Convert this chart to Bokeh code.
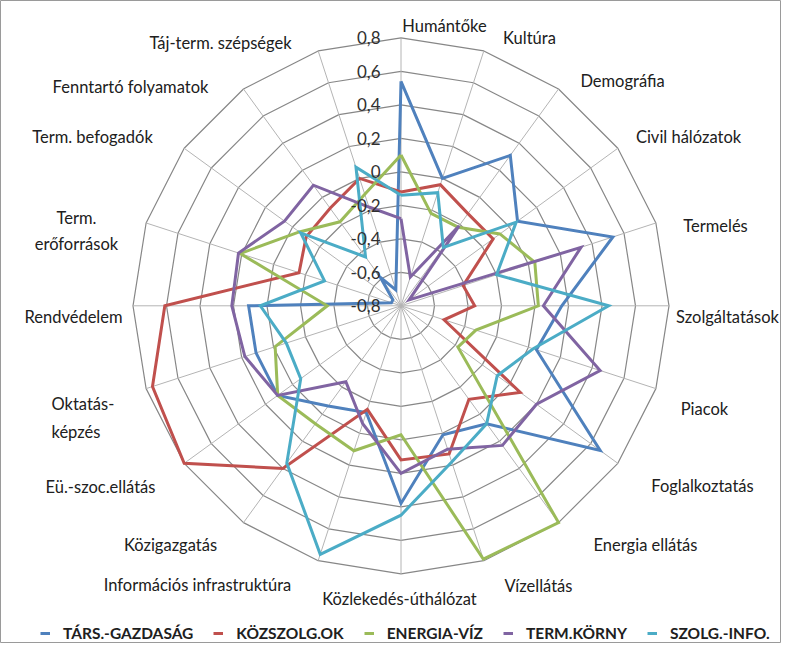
import numpy as np
from bokeh.plotting import figure
from bokeh.models import Legend, LegendItem, Range1d
from bokeh.core.properties import value
from bokeh.embed import file_html
from bokeh.resources import INLINE

# ---------------- data ----------------
categories = ["Humántőke", "Kultúra", "Demográfia", "Civil hálózatok", "Termelés",
              "Szolgáltatások", "Piacok", "Foglalkoztatás", "Energia ellátás", "Vízellátás",
              "Közlekedés-úthálózat", "Információs infrastruktúra", "Közigazgatás",
              "Eü.-szoc.ellátás", "Oktatás-képzés", "Rendvédelem", "Term. erőforrások",
              "Term. befogadók", "Fenntartó folyamatok", "Táj-term. szépségek"]

tars_gazdasag = [0.54, 0.00, 0.31, 0.06, 0.53, 0.16, 0.05, 0.67, 0.07, 0.01,
                 0.38, -0.13, -0.06, 0.11, 0.11, 0.11, -0.74, -0.74, -0.59, -0.70]
kozszolg_ok = [-0.12, -0.04, -0.12, -0.12, -0.41, -0.36, -0.53, 0.08, -0.11, 0.13,
               0.12, -0.15, 0.40, 0.80, 0.76, 0.61, -0.16, -0.10, -0.08, 0.00]
energia_viz = [0.10, -0.22, -0.22, -0.07, 0.04, 0.02, -0.33, -0.38, 0.80, 0.79,
               -0.03, 0.11, 0.07, 0.11, -0.01, -0.36, 0.21, -0.05, -0.18, -0.10]
term_korny = [-0.28, -0.62, -0.21, -0.74, 0.33, 0.05, 0.45, 0.20, 0.23, 0.10,
              0.20, -0.06, -0.24, 0.11, 0.18, 0.21, 0.22, 0.06, 0.09, -0.18]
szolg_info = [-0.14, -0.09, -0.37, 0.05, -0.20, 0.44, 0.03, -0.09, 0.07, 0.18,
              0.45, 0.76, 0.36, -0.06, -0.08, 0.04, -0.32, -0.06, -0.44, 0.07]

series_names = ["TÁRS.-GAZDASÁG", "KÖZSZOLG.OK", "ENERGIA-VÍZ", "TERM.KÖRNY", "SZOLG.-INFO."]
series_values = [tars_gazdasag, kozszolg_ok, energia_viz, term_korny, szolg_info]

tick_values = [-0.8, -0.6, -0.4, -0.2, 0.0, 0.2, 0.4, 0.6, 0.8]
tick_labels = ["-0,8", "-0,6", "-0,4", "-0,2", "0", "0,2", "0,4", "0,6", "0,8"]

# ---------------- styles / layout ----------------
colors = ["#4F81BD", "#C0504D", "#9BBB59", "#8064A2", "#4BACC6"]
W, H = 781, 643
CX, CY = 400.5, 305.3          # chart centre in figure pixels
PX_PER_UNIT = 167.5            # pixels per 1.0 of value
VMIN, VMAX = -0.8, 0.8

n = len(categories)
theta = np.arange(n) * 2 * np.pi / n


def polar(vals):
    r = np.asarray(vals, dtype=float) - VMIN
    return r * np.sin(theta), r * np.cos(theta)


def pix(px, py):
    """page-pixel position -> data coords (figure sits at the 8px page margin)"""
    return (px - 8 - CX) / PX_PER_UNIT, (CY - (py - 8)) / PX_PER_UNIT


p = figure(width=W, height=H, output_backend="svg", toolbar_location=None,
           x_range=Range1d(-CX / PX_PER_UNIT, (W - CX) / PX_PER_UNIT),
           y_range=Range1d(-(H - CY) / PX_PER_UNIT, CY / PX_PER_UNIT),
           min_border=0)
p.axis.visible = False
p.grid.visible = False
p.outline_line_color = "#9a9a9a"
p.outline_line_width = 1
p.background_fill_color = "white"
p.border_fill_color = "white"

# grid rings (polygons) and spokes
for tv in tick_values[1:]:
    gx, gy = polar([tv] * n)
    p.line(list(gx) + [gx[0]], list(gy) + [gy[0]], line_color="#878787", line_width=1.2)
ox, oy = polar([VMAX] * n)
p.segment(x0=[0] * n, y0=[0] * n, x1=ox, y1=oy, line_color="#b4b4b4", line_width=1)

# series
items = []
for name, vals, col in zip(series_names, series_values, colors):
    sx, sy = polar(vals)
    r = p.line(list(sx) + [sx[0]], list(sy) + [sy[0]], line_color=col, line_width=3,
               line_join="miter")
    items.append(LegendItem(label=name, renderers=[r]))

# value axis tick labels
tx = [pix(388, 0)[0]] * len(tick_values)
ty = [tv - VMIN for tv in tick_values]
p.text(x=tx, y=ty, text=tick_labels, text_align="right", text_baseline="middle",
       text_font=value("Lato"), text_font_size="17px", text_color="#303030")

# category labels
label_pos = {
    "Humántőke": (452, 33), "Kultúra": (537, 45), "Demográfia": (630, 88),
    "Civil hálózatok": (696, 144), "Termelés": (723, 233), "Szolgáltatások": (735, 324),
    "Piacok": (712, 416), "Foglalkoztatás": (710, 493), "Energia ellátás": (653, 552),
    "Vízellátás": (546, 593), "Közlekedés-úthálózat": (407, 606),
    "Információs infrastruktúra": (205, 592), "Közigazgatás": (178, 552),
    "Eü.-szoc.ellátás": (108, 494), "Rendvédelem": (81, 324),
    "Term. erőforrások": (84, 238), "Term. befogadók": (100, 144),
    "Fenntartó folyamatok": (138, 94), "Táj-term. szépségek": (228, 50),
}
display = {"Term. erőforrások": "Term.\nerőforrások"}
lx, ly, lt = [], [], []
for c in categories:
    if c in label_pos:
        x_, y_ = pix(*label_pos[c])
        lx.append(x_); ly.append(y_); lt.append(display.get(c, c))
p.text(x=lx, y=ly, text=lt, text_align="center", text_baseline="middle",
       text_font=value("Lato"), text_font_size="16.5px", text_color="#202020",
       text_line_height=1.3)
ox_, oy_ = pix(59, 425)
p.text(x=[ox_], y=[oy_], text=["Oktatás-\nképzés"], text_align="left", text_baseline="middle",
       text_font=value("Lato"), text_font_size="16.5px", text_color="#202020",
       text_line_height=1.4)

legend = Legend(items=items, orientation="horizontal", location=(40, 1),
                label_text_font="Lato", label_text_font_style="bold",
                label_text_font_size="15.5px", label_text_color="#202020",
                glyph_width=10, glyph_height=12, label_height=14,
                label_standoff=13, spacing=20,
                padding=0, margin=0, background_fill_alpha=0, border_line_alpha=0)
p.add_layout(legend)

open("out.html", "w").write(file_html(p, INLINE))
